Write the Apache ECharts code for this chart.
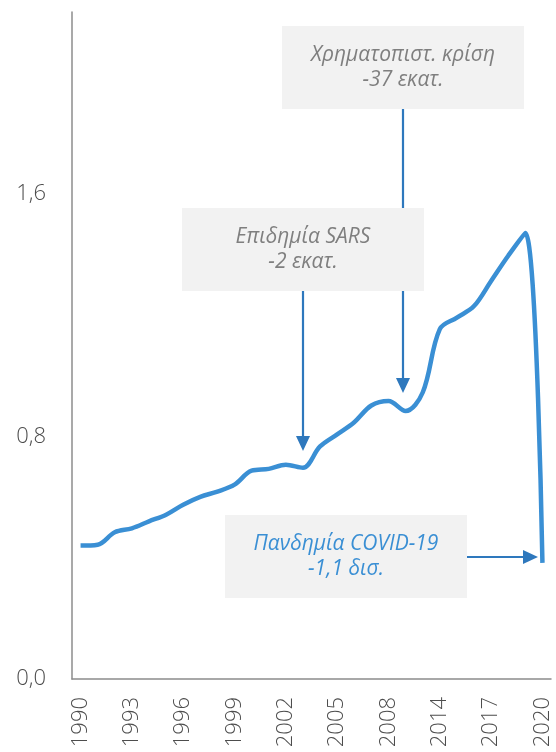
<!DOCTYPE html>
<html>
<head>
<meta charset="utf-8">
<script src="https://cdn.jsdelivr.net/npm/echarts@6/dist/echarts.min.js"></script>
<style>
html,body{margin:0;padding:0;background:#fff;}
#chart{width:556px;height:752px;}
</style>
</head>
<body>
<div id="chart"></div>
<script>
var years = ['1990','1991','1992','1993','1994','1995','1996','1997','1998','1999',
             '2000','2001','2002','2003','2004','2005','2006','2007','2008','2009',
             '2010','2014','2015','2016','2017','2018','2019','2020'];
var arrivals = [0.440,0.443,0.484,0.497,0.520,0.542,0.575,0.601,0.618,0.641,
                0.687,0.693,0.707,0.697,0.767,0.807,0.847,0.902,0.917,0.884,
                0.945,1.154,1.192,1.230,1.313,1.396,1.471,0.383];
var yTicks = [0, 0.8, 1.6];
var notes = [
  ['Χρηματοπιστ. κρίση', '-37 εκατ.'],
  ['Επιδημία SARS', '-2 εκατ.'],
  ['Πανδημία COVID-19', '-1,1 δισ.']
];

var FONT = '"Open Sans", "Noto Sans", sans-serif';
var ARROW = '#2e78bd';

function box(x, y, w, h, lines, color) {
  return {
    type: 'group', left: x, top: y,
    children: [
      { type: 'rect', shape: { x: 0, y: 0, width: w, height: h }, style: { fill: '#f2f2f2' } },
      { type: 'text', x: w / 2, y: h / 2,
        style: { text: lines.join('\n'), fill: color, font: 'italic 21px ' + FONT,
                 align: 'center', verticalAlign: 'middle', lineHeight: 25 } }
    ]
  };
}
function vArrow(x, y1, y2) {
  return [
    { type: 'line', shape: { x1: x, y1: y1, x2: x, y2: y2 - 12 }, style: { stroke: ARROW, lineWidth: 2.2 } },
    { type: 'polygon', shape: { points: [[x - 7, y2 - 15], [x + 7, y2 - 15], [x, y2]] }, style: { fill: ARROW } }
  ];
}
function hArrow(y, x1, x2) {
  return [
    { type: 'line', shape: { x1: x1, y1: y, x2: x2 - 12, y2: y }, style: { stroke: ARROW, lineWidth: 2.2 } },
    { type: 'polygon', shape: { points: [[x2 - 15, y - 7], [x2 - 15, y + 7], [x2, y]] }, style: { fill: ARROW } }
  ];
}

var chart = echarts.init(document.getElementById('chart'));
chart.setOption({
  animation: false,
  grid: { left: 72, right: 5, top: 12, bottom: 73, containLabel: false },
  xAxis: {
    type: 'category', data: years, boundaryGap: true,
    axisLine: { show: true, lineStyle: { color: '#8c8c8c', width: 1.5 } },
    axisTick: { show: false },
    axisLabel: { interval: 2, rotate: 90, margin: 18, color: '#4d4d4d', fontSize: 22, fontWeight: 300, fontFamily: FONT }
  },
  yAxis: {
    type: 'value', min: 0, max: 2.2, interval: 0.8,
    axisLine: { show: true, lineStyle: { color: '#8c8c8c', width: 1.5 } },
    axisTick: { show: false },
    splitLine: { show: false },
    axisLabel: {
      showMaxLabel: false, margin: 26, color: '#4d4d4d', fontSize: 22, fontWeight: 300, fontFamily: FONT,
      formatter: function (v) {
        var ok = yTicks.some(function (t) { return Math.abs(t - v) < 1e-6; });
        return ok ? v.toFixed(1).replace('.', ',') : '';
      }
    }
  },
  series: [{
    type: 'line', data: arrivals, smooth: 0.35, showSymbol: false,
    lineStyle: { color: '#3a8fd4', width: 4.5 }, itemStyle: { color: '#3a8fd4' }
  }],
  graphic: [].concat(
    [box(282, 26, 242, 83, notes[0], '#7f7f7f')],
    vArrow(403, 109, 393),
    [box(182, 208, 242, 83, notes[1], '#7f7f7f')],
    vArrow(303, 291, 451),
    [box(225, 515, 242, 83, notes[2], '#3a8fd4')],
    hArrow(557, 467, 538)
  )
});
</script>
</body>
</html>
